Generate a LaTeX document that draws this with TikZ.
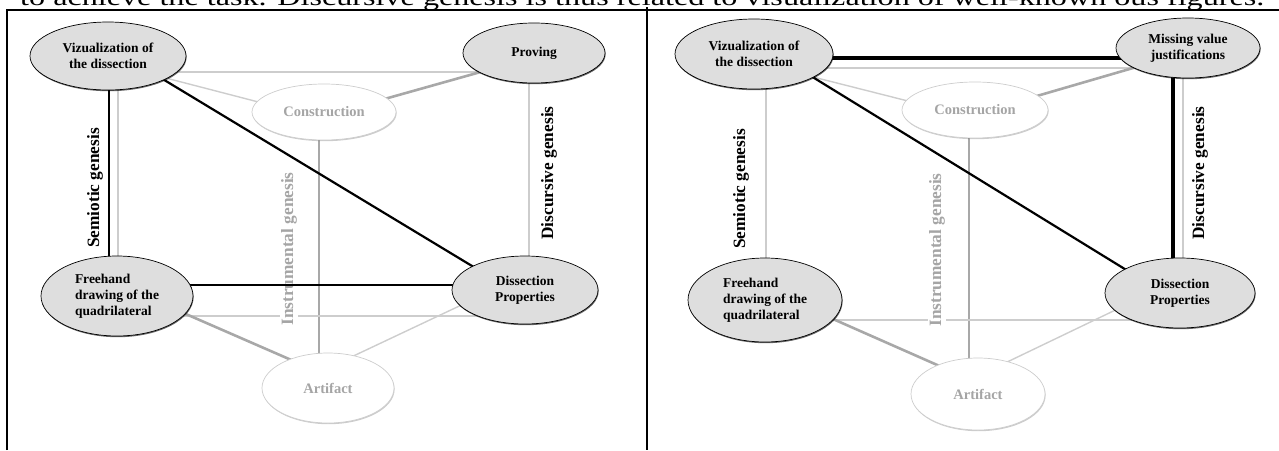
\documentclass[tikz,border=0pt]{standalone}
\usepackage{fontspec}
\setmainfont{Liberation Serif}
\usetikzlibrary{shapes.geometric,shadows,backgrounds}
\definecolor{nodefill}{HTML}{DEDEDE}
\definecolor{lgray}{HTML}{CDCDCD}
\definecolor{mgray}{HTML}{A8A8A8}
\definecolor{tgray}{HTML}{A5A5A5}
\tikzset{
 darknode/.style={ellipse, draw=black, line width=0.7pt, fill=nodefill, inner sep=0pt, align=center,
   font=\bfseries\fontsize{13.5}{16}\selectfont,
   drop shadow={shadow xshift=0.6pt, shadow yshift=-1.2pt, fill=black, opacity=0.6}},
 lightnode/.style={ellipse, draw=lgray, line width=0.7pt, fill=white, inner sep=0pt, text=tgray,
   font=\bfseries\fontsize{14.5}{17}\selectfont,
   drop shadow={shadow xshift=0.6pt, shadow yshift=-1.2pt, fill=black, opacity=0.2}},
 genlabel/.style={rotate=90, inner sep=1pt, font=\bfseries\fontsize{17.3}{20}\selectfont},
 thinline/.style={draw=lgray, line width=1.4pt},
 midline/.style={draw=mgray, line width=2.6pt},
 vline/.style={draw=mgray, line width=1.8pt},
 blackline/.style={draw=black, line width=2.2pt},
 heavyline/.style={draw=black, line width=4.5pt},
 discline/.style={draw=black, line width=3.2pt},
 framel/.style={draw=black, line width=1.2pt},
}
\begin{document}
\begin{tikzpicture}[x=1pt,y=-1pt]
\useasboundingbox (0,0) rectangle (1279,450);
% clipped text line at the top
\node[anchor=base west, inner sep=0pt, font=\fontsize{24}{28}\selectfont] (toptext) at (20,5)
  {\scalebox{1.34}[1]{to achieve the task. Discursive genesis is thus related to visualization of well-known ous figures.}};
% frame
\draw[framel] (7,450) -- (7,10) -- (1279,10);
\draw[framel] (647,7) -- (647,450);

% ---------- left panel nodes ----------
\node[darknode, minimum width=156pt, minimum height=68pt] (Lviz) at (108,56) {Vizualization of\\the dissection};
\node[darknode, minimum width=142pt, minimum height=60pt] (Lprov) at (534,53) {Proving};
\node[lightnode, minimum width=144pt, minimum height=56pt] (Lcon) at (324,112) {Construction};
\node[darknode, minimum width=152pt, minimum height=80pt, align=left] (Lfree) at (117,296) {Freehand\\drawing of the\\quadrilateral};
\node[darknode, minimum width=146pt, minimum height=68pt] (Ldis) at (525,290) {Dissection\\Properties};
\node[lightnode, minimum width=132pt, minimum height=70pt] (Lart) at (328,388) {Artifact};
\node[genlabel] (Lsem) at (95,188) {Semiotic genesis};
\node[genlabel] (Ldisc) at (549,173) {Discursive genesis};

% ---------- right panel nodes ----------
\node[darknode, minimum width=158pt, minimum height=70pt] (Rviz) at (754,54) {Vizualization of\\the dissection};
\node[darknode, minimum width=144pt, minimum height=60pt] (Rmis) at (1188,48) {Missing value\\justifications};
\node[lightnode, minimum width=146pt, minimum height=56pt] (Rcon) at (975,110) {Construction};
\node[darknode, minimum width=154pt, minimum height=84pt, align=left] (Rfree) at (765,300) {Freehand\\drawing of the\\quadrilateral};
\node[darknode, minimum width=150pt, minimum height=70pt] (Rdis) at (1180,293) {Dissection\\Properties};
\node[lightnode, minimum width=134pt, minimum height=72pt] (Rart) at (978,394) {Artifact};
\node[genlabel] (Rsem) at (741,189) {Semiotic genesis};
\node[genlabel] (Rdisc) at (1200,173) {Discursive genesis};

\begin{pgfonlayer}{background}
% left gray connectors
\draw[thinline] ([yshift=-16pt]Lviz.center) -- ([yshift=-19pt]Lprov.center);
\draw[thinline] ([yshift=-7pt]Lviz.center) -- ([yshift=-7pt]Lcon.center);
\draw[midline] ([yshift=-4pt]Lprov.center) -- ([yshift=-4pt]Lcon.center);
\draw[thinline] ([xshift=10pt]Lviz.center) -- ([xshift=1pt]Lfree.center);
\draw[thinline] ([xshift=-5pt]Lprov.center) -- ([xshift=4pt]Ldis.center);
\draw[vline] ([xshift=-5pt]Lcon.center) -- ([xshift=-9pt]Lart.center);
\draw[thinline] ([yshift=-20pt]Lfree.center) -- ([yshift=-26pt]Ldis.center);
\draw[midline] ([yshift=12pt]Lfree.center) -- ([yshift=12pt]Lart.center);
\draw[thinline] ([yshift=15pt]Ldis.center) -- ([yshift=20pt]Lart.center);
% right gray connectors
\draw[thinline] ([yshift=-14pt]Rviz.center) -- ([yshift=-20pt]Rmis.center);
\draw[thinline] ([yshift=-8pt]Rviz.center) -- ([yshift=-8pt]Rcon.center);
\draw[midline] ([yshift=-4pt]Rmis.center) -- ([yshift=-4pt]Rcon.center);
\draw[thinline] ([xshift=12pt]Rviz.center) -- ([xshift=1pt]Rfree.center);
\draw[thinline] ([xshift=-5pt]Rmis.center) -- ([xshift=3pt]Rdis.center);
\draw[vline] ([xshift=-6pt]Rcon.center) -- ([xshift=-9pt]Rart.center);
\draw[thinline] ([yshift=-20pt]Rfree.center) -- ([yshift=-27pt]Rdis.center);
\draw[midline] ([yshift=11pt]Rfree.center) -- ([yshift=11pt]Rart.center);
\draw[thinline] ([yshift=14pt]Rdis.center) -- ([yshift=18pt]Rart.center);
% instrumental genesis labels (mask the gray lines)
\node[genlabel, fill=white, text=tgray] (Linst) at (289,249) {Instrumental genesis};
\node[genlabel, fill=white, text=tgray] (Rinst) at (937,250) {Instrumental genesis};
% black connectors
\draw[blackline] ([yshift=10pt]Lviz.center) -- ([yshift=-8pt]Ldis.center);
\draw[blackline] ([xshift=1pt]Lviz.center) -- ([xshift=-8pt]Lfree.center);
\draw[blackline] ([yshift=11pt]Lfree.center) -- ([yshift=5pt]Ldis.center);
\draw[heavyline] ([yshift=-4pt]Rviz.center) -- ([yshift=-10pt]Rmis.center);
\draw[blackline] ([yshift=13pt]Rviz.center) -- ([yshift=-10pt]Rdis.center);
\draw[discline] ([xshift=-15pt]Rmis.center) -- ([xshift=-7pt]Rdis.center);
\end{pgfonlayer}
\end{tikzpicture}
\end{document}
